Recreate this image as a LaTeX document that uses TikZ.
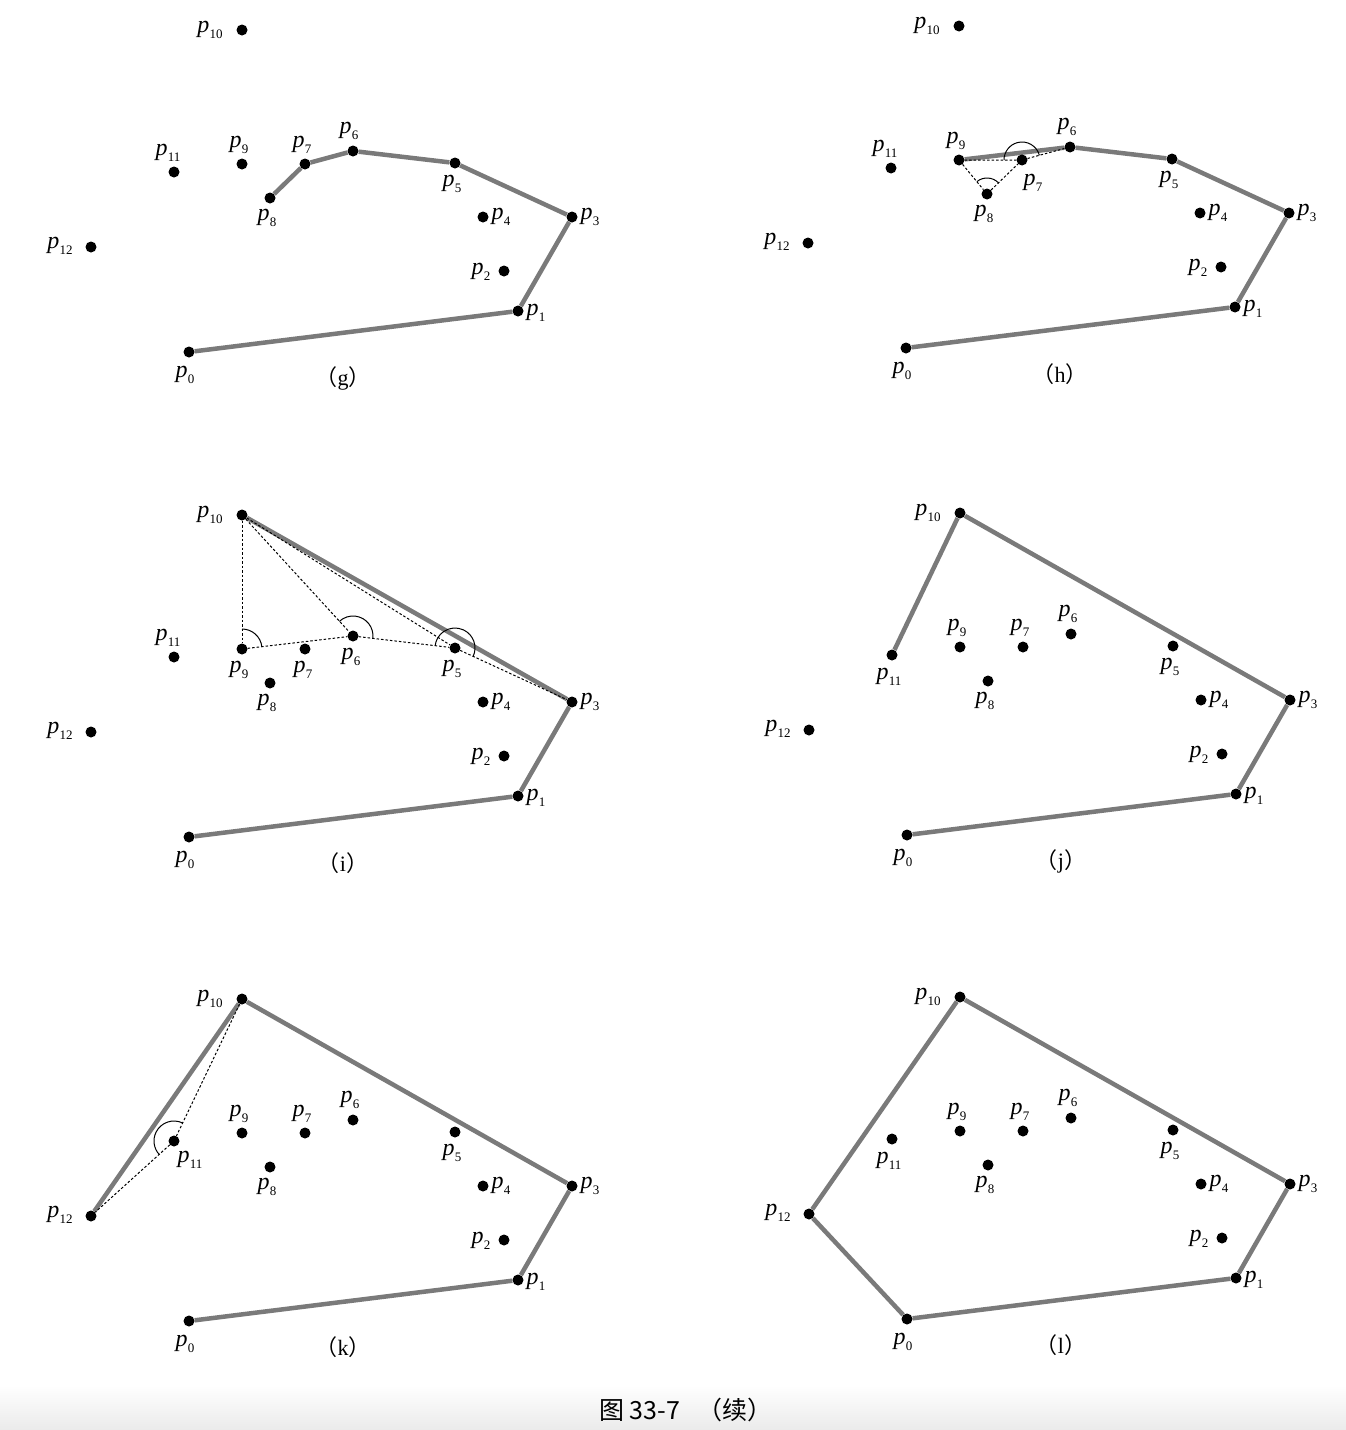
\documentclass[tikz,border=0pt]{standalone}
\usepackage{fontspec}
\setmainfont{Liberation Serif}
\newfontfamily\cjk{Noto Sans CJK SC}
\usetikzlibrary{calc,backgrounds}
\tikzset{
  dot/.style={circle,fill=black,inner sep=0pt,minimum size=11pt},
  lbl/.style={inner sep=0pt,font=\fontsize{24}{26}\selectfont},
  hull/.style={line width=4.5pt,draw=black!52},
  aux/.style={line width=1pt,dash pattern=on 2.5pt off 2pt},
  ang/.style={line width=1pt},
  subcap/.style={inner sep=0pt,font=\fontsize{22}{24}\selectfont},
}
\newcommand\plab[1]{\textit{p}\kern0.2pt\raisebox{-0.25em}{\fontsize{13}{13}\selectfont #1}}
% #1 prefix, #2 dx, #3 dy, #4 variable labels, #5 caption letter
\newcommand\panel[5]{%
  \foreach \i/\x/\y in {0/189/352,1/518/311,2/504/271,3/572/217,4/483/217,5/455/163,
      6/353/151,7/305/164,8/270/198,9/242/164,10/242/30,11/174/172,12/91/247}
    {\node[dot] (#1\i) at ({\x+(#2)},{\y+(#3)}) {};}
  \foreach \i/\lx/\ly in {0/-4/23,1/18/2,2/-23/1,3/18/0,4/18/0,5/-3/21,8/-3/20,10/-32/0,12/-31/-1}
    {\node[lbl] (#1l\i) at ($(#1\i)+(\lx,\ly)$) {\plab{\i}};}
  \foreach \i/\lx/\ly in {#4}
    {\node[lbl] (#1l\i) at ($(#1\i)+(\lx,\ly)$) {\plab{\i}};}
  \node[subcap] (#1cap) at ({343+(#2)},{378+(#3)}) {{\cjk （}#5{\cjk ）}};
}
\begin{document}
\begin{tikzpicture}[x=1pt,y=-1pt]
\useasboundingbox (0,0) rectangle (1346,1430);

\panel{g}{0}{0}{6/-4/-20,7/-3/-19,9/-3/-19,11/-6/-19}{g}
\panel{h}{717}{-4}{6/-3/-20,7/11/23,9/-3/-19,11/-6/-19}{h}
\panel{i}{0}{485}{6/-2/21,7/-2/21,9/-3/21,11/-6/-19}{i}
\panel{j}{718}{483}{6/-3/-20,7/-3/-19,9/-3/-19,11/-3/22}{j}
\panel{k}{0}{969}{6/-3/-20,7/-3/-19,9/-3/-19,11/16/19}{k}
\panel{l}{718}{967}{6/-3/-20,7/-3/-19,9/-3/-19,11/-3/22}{l}

\node[inner sep=0pt,font=\cjk\fontsize{25}{28}\selectfont] (fig) at (686,1410) {图 33-7\hspace{0.7em}（续）};

\begin{scope}[on background layer]
  \shade[top color=white,bottom color=black!8] (0,1385) rectangle (1346,1430);
  % (g)
  \draw[hull] (g0)--(g1)--(g3)--(g5)--(g6)--(g7)--(g8);
  % (h)
  \draw[hull] (h0)--(h1)--(h3)--(h5)--(h6)--(h9);
  \draw[aux] (h9)--(h8)--(h7);
  \draw[aux] (h9)--(h7)--(h6);
  \draw[ang] ($(h7)+(15:18pt)$) arc[start angle=15,end angle=180,radius=18pt];
  \draw[ang] ($(h8)+(44:16pt)$) arc[start angle=44,end angle=129,radius=16pt];
  % (i)
  \draw[hull] (i0)--(i1)--(i3)--(i10);
  \draw[aux] (i10)--(i9);
  \draw[aux] (i10)--(i6);
  \draw[aux] (i10)--(i5);
  \draw[aux] (i9)--(i6)--(i5)--(i3);
  \draw[ang] ($(i9)+(7:20pt)$) arc[start angle=7,end angle=90,radius=20pt];
  \draw[ang] ($(i6)+(-7:20pt)$) arc[start angle=-7,end angle=133,radius=20pt];
  \draw[ang] ($(i5)+(-25:20pt)$) arc[start angle=-25,end angle=173,radius=20pt];
  % (j)
  \draw[hull] (j0)--(j1)--(j3)--(j10)--(j11);
  % (k)
  \draw[hull] (k0)--(k1)--(k3)--(k10)--(k12);
  \draw[aux] (k10)--(k11)--(k12);
  \draw[ang] ($(k11)+(64:20pt)$) arc[start angle=64,end angle=222,radius=20pt];
  % (l)
  \draw[hull] (l0)--(l1)--(l3)--(l10)--(l12)--(l0);
\end{scope}
\end{tikzpicture}
\end{document}
